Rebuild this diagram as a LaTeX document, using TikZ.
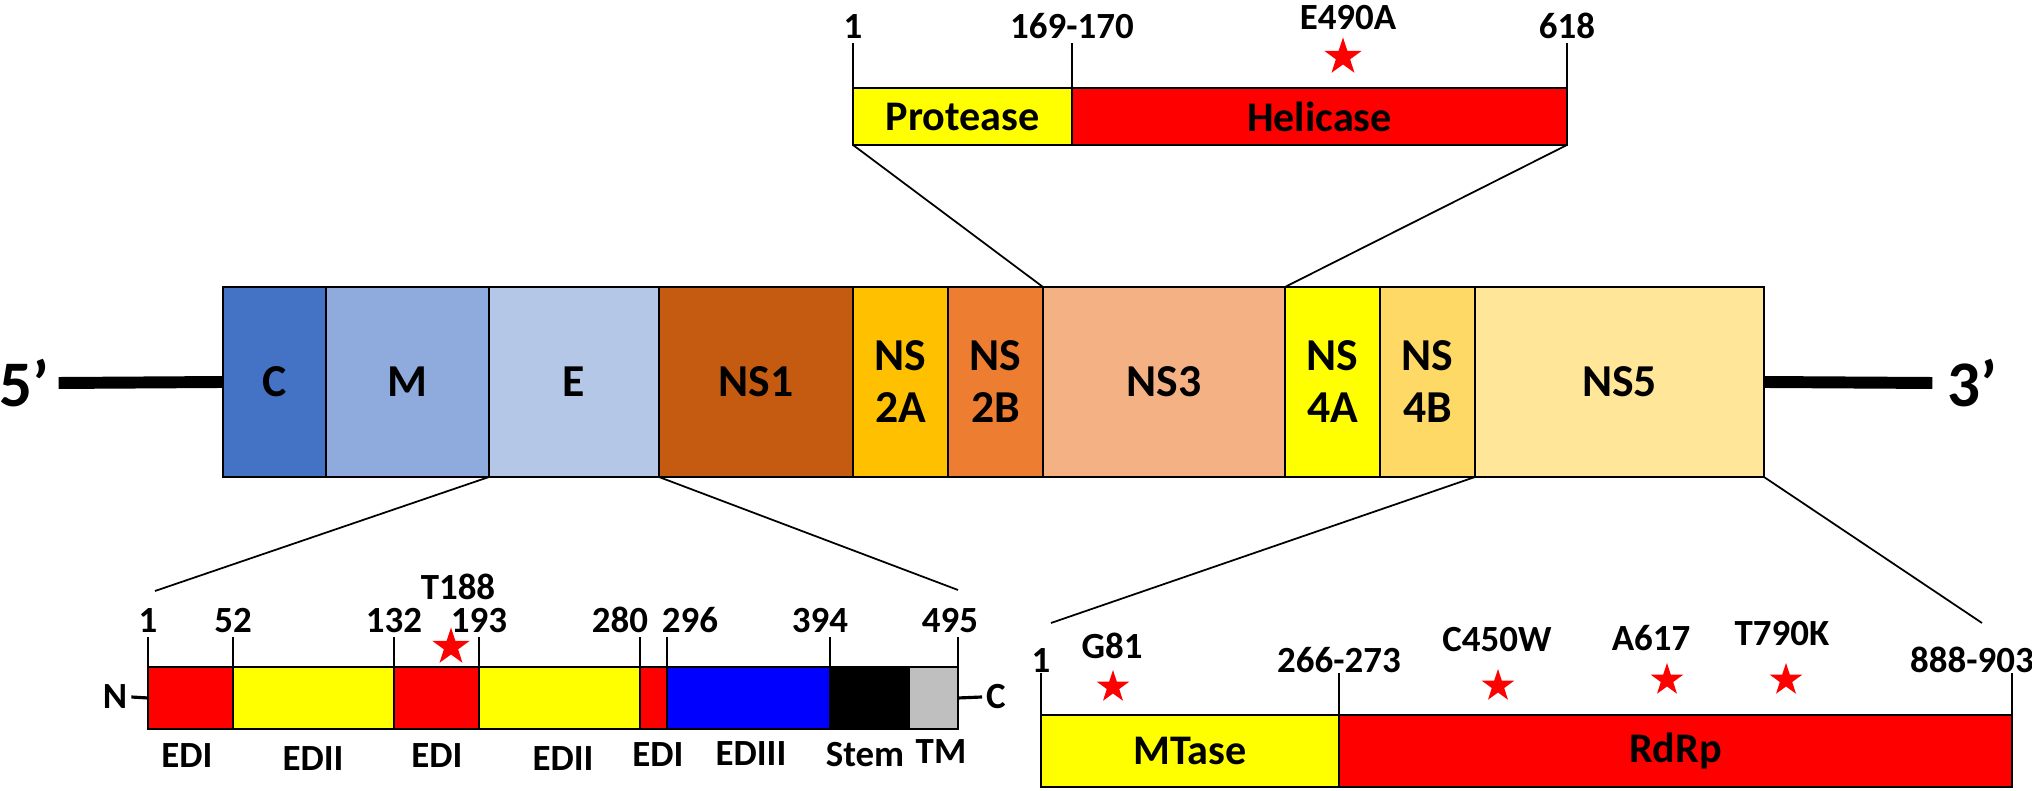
\documentclass[tikz,border=0pt]{standalone}
\usepackage{fontspec}
\setmainfont{Carlito}
\usepackage{xcolor}
\usetikzlibrary{positioning,shapes.geometric}
\definecolor{colC}{HTML}{4472C4}
\definecolor{colM}{HTML}{8FAADC}
\definecolor{colE}{HTML}{B4C7E7}
\definecolor{colNS1}{HTML}{C55A11}
\definecolor{colNS2A}{HTML}{FFC000}
\definecolor{colNS2B}{HTML}{ED7D31}
\definecolor{colNS3}{HTML}{F4B183}
\definecolor{colNS4A}{HTML}{FFFF00}
\definecolor{colNS4B}{HTML}{FFD966}
\definecolor{colNS5}{HTML}{FFE699}
\definecolor{colTM}{HTML}{BFBFBF}
\definecolor{colRed}{HTML}{FF0000}
\definecolor{colYel}{HTML}{FFFF00}
\definecolor{colBlue}{HTML}{0000FF}

\begin{document}
\begin{tikzpicture}[x=0.1mm, y=-0.1mm,
    seg/.style={draw=black, line width=0.6pt, inner sep=0pt, outer sep=0pt, align=center},
    gene/.style={seg, minimum height=19mm, font=\fontsize{13}{14.8}\selectfont\bfseries},
    dom/.style={seg, font=\fontsize{12}{13}\selectfont\bfseries},
    num/.style={font=\fontsize{10.5}{12}\selectfont\bfseries, inner sep=1pt},
    dlabel/.style={font=\fontsize{10.5}{12}\selectfont\bfseries, inner sep=0pt},
    tick/.style={line width=0.4pt},
    zoomline/.style={line width=0.5pt},
    rna/.style={line width=3.4pt},
    mutstar/.style={star, star points=5, star point ratio=2.6, fill=colRed, draw=none, inner sep=0pt, minimum size=3.9mm},
    endlbl/.style={font=\fontsize{18.5}{20}\selectfont\bfseries}
]
\useasboundingbox (0,0) rectangle (2032,791);
% GENOME: polyprotein bar
\node[gene, fill=colC, minimum width=10.3mm, anchor=north west] (C) at (223,287) {C};
\node[gene, fill=colM, minimum width=16.3mm, right=0pt of C] (M) {M};
\node[gene, fill=colE, minimum width=17mm, right=0pt of M] (E) {E};
\node[gene, fill=colNS1, minimum width=19.4mm, right=0pt of E] (NS1) {NS1};
\node[gene, fill=colNS2A, minimum width=9.5mm, right=0pt of NS1] (NS2A) {NS\\2A};
\node[gene, fill=colNS2B, minimum width=9.5mm, right=0pt of NS2A] (NS2B) {NS\\2B};
\node[gene, fill=colNS3, minimum width=24.2mm, right=0pt of NS2B] (NS3) {NS3};
\node[gene, fill=colNS4A, minimum width=9.5mm, right=0pt of NS3] (NS4A) {NS\\4A};
\node[gene, fill=colNS4B, minimum width=9.5mm, right=0pt of NS4A] (NS4B) {NS\\4B};
\node[gene, fill=colNS5, minimum width=28.9mm, right=0pt of NS4B] (NS5) {NS5};
% UTR ends
\node[endlbl, inner xsep=2.6pt] (five) at (24,383) {5’};
\node[endlbl, inner xsep=4pt] (three) at (1972,383) {3’};
\draw[rna] (five.east) -- (C.west);
\draw[rna] (NS5.east) -- (three.west);
% NS3: protease / helicase
\node[dom, fill=colYel, minimum width=21.9mm, minimum height=5.7mm, anchor=north west] (prot) at (853,88) {Protease};
\node[dom, fill=colRed, minimum width=49.5mm, minimum height=5.7mm, right=0pt of prot] (heli) {Helicase};
\draw[tick] (prot.north west) -- ++(0,-45) node[num, above] {1};
\draw[tick] (heli.north west) -- ++(0,-45) node[num, above] {169-170};
\draw[tick] (heli.north east) -- ++(0,-45) node[num, above] {618};
\node[num] (l490) at (1348,18) {E490A};
\node[mutstar] (s490) at (1343,57) {};
\draw[zoomline] (prot.south west) -- (NS3.north west);
\draw[zoomline] (heli.south east) -- (NS4A.north west);
% E protein domains
\node[seg, fill=colRed, minimum width=8.5mm, minimum height=6.2mm, anchor=north west] (edi1) at (148,667) {};
\node[seg, fill=colYel, minimum width=16.1mm, minimum height=6.2mm, right=0pt of edi1] (edii1) {};
\node[seg, fill=colRed, minimum width=8.5mm, minimum height=6.2mm, right=0pt of edii1] (edi2) {};
\node[seg, fill=colYel, minimum width=16.1mm, minimum height=6.2mm, right=0pt of edi2] (edii2) {};
\node[seg, fill=colRed, minimum width=2.7mm, minimum height=6.2mm, right=0pt of edii2] (edi3) {};
\node[seg, fill=colBlue, minimum width=16.3mm, minimum height=6.2mm, right=0pt of edi3] (ediii) {};
\node[seg, fill=black, minimum width=7.9mm, minimum height=6.2mm, right=0pt of ediii] (stem) {};
\node[seg, fill=colTM, minimum width=4.9mm, minimum height=6.2mm, right=0pt of stem] (tm) {};
\node[dlabel, inner xsep=1pt] (nterm) at (115,697) {N};
\node[dlabel, inner xsep=1pt] (cterm) at (996,697) {C};
\draw[line width=0.9pt] (nterm.east) -- (edi1.west);
\draw[line width=0.9pt] (tm.east) -- (cterm.west);
\draw[tick] (edi1.north west) -- ++(0,-30) node[num, above] {1};
\draw[tick] (edii1.north west) -- ++(0,-30) node[num, above] {52};
\draw[tick] (edi2.north west) -- ++(0,-30) node[num, above] {132};
\draw[tick] (edii2.north west) -- ++(0,-30) node[num, above] {193};
\draw[tick] (edi3.north west) -- ++(0,-30) node[num, above, xshift=-2mm] {280};
\draw[tick] (ediii.north west) -- ++(0,-30) node[num, above, xshift=2.3mm] {296};
\draw[tick] (stem.north west) -- ++(0,-30) node[num, above, xshift=-1mm] {394};
\draw[tick] (tm.north east) -- ++(0,-30) node[num, above, xshift=-0.8mm] {495};
\node[dlabel] (ledi1) at (187,756) {EDI};
\node[dlabel] (ledii1) at (313,759) {EDII};
\node[dlabel] (ledi2) at (437,756) {EDI};
\node[dlabel] (ledii2) at (563,759) {EDII};
\node[dlabel] (ledi3) at (658,755) {EDI};
\node[dlabel] (lediii) at (751,754) {EDIII};
\node[dlabel] (lstem) at (865,755) {Stem};
\node[dlabel] (ltm) at (941,752) {TM};
\node[num] (l188) at (458,587) {T188};
\node[mutstar] (s188) at (451,647) {};
\coordinate (eleft) at (155,591);
\coordinate (eright) at (958,590);
\draw[zoomline] (eleft) -- (E.south west);
\draw[zoomline] (eright) -- (E.south east);
% NS5: MTase / RdRp
\node[dom, fill=colYel, minimum width=29.8mm, minimum height=7.2mm, anchor=north west] (mtase) at (1041,715) {MTase};
\node[dom, fill=colRed, minimum width=67.3mm, minimum height=7.2mm, right=0pt of mtase] (rdrp) {RdRp};
\draw[tick] (mtase.north west) -- ++(0,-42) node[num, above, inner sep=0pt] {1};
\draw[tick] (rdrp.north west) -- ++(0,-42) node[num, above, inner sep=0pt] {266-273};
\draw[tick] (rdrp.north east) -- ++(0,-42) node[num, above, inner sep=0pt, xshift=-4mm] {888-903};
\node[num] (l81) at (1112,646) {G81};
\node[num] (l450) at (1497,640) {C450W};
\node[num] (l617) at (1651,638) {A617};
\node[num] (l790) at (1782,634) {T790K};
\node[mutstar, minimum size=3.4mm] (s81) at (1113,687) {};
\node[mutstar, minimum size=3.4mm] (s450) at (1498,686) {};
\node[mutstar, minimum size=3.4mm] (s617) at (1667,680) {};
\node[mutstar, minimum size=3.4mm] (s790) at (1786,680) {};
\coordinate (nleft) at (1051,623);
\coordinate (nright) at (1982,623);
\draw[zoomline] (nleft) -- (NS5.south west);
\draw[zoomline] (nright) -- (NS5.south east);
\end{tikzpicture}
\end{document}
